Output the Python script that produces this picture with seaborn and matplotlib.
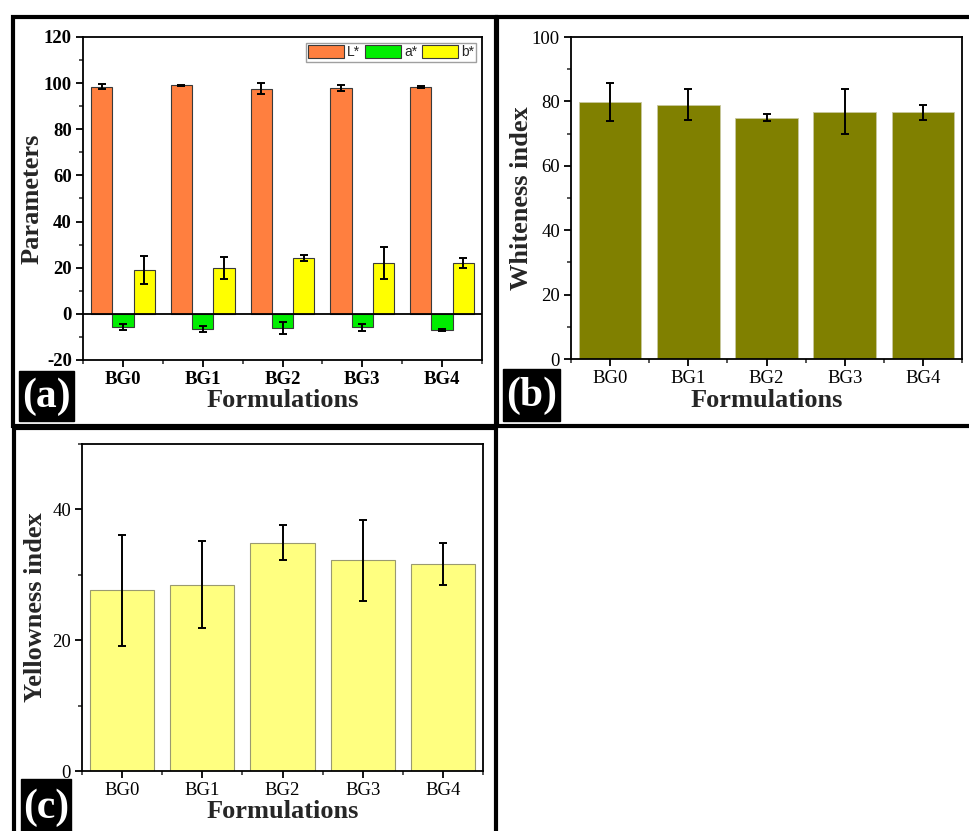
import numpy as np
import pandas as pd
import matplotlib
matplotlib.use("Agg")
import matplotlib.pyplot as plt
from matplotlib.patches import Rectangle
from matplotlib.ticker import MultipleLocator, FixedLocator
import seaborn as sns

# ---- data ----
formulations = ["BG0", "BG1", "BG2", "BG3", "BG4"]

L_star = [98.5, 99.0, 97.6, 98.0, 98.5]
L_err = [1.0, 0.3, 2.3, 1.3, 0.4]
a_star = [-5.5, -6.7, -6.2, -5.8, -7.0]
a_err = [1.3, 1.3, 2.5, 1.5, 0.4]
b_star = [18.9, 19.8, 24.0, 22.0, 22.0]
b_err = [6.0, 4.8, 1.3, 6.9, 2.2]
param_names = ["L*", "a*", "b*"]

whiteness = [79.8, 79.0, 75.0, 76.8, 76.6]
whiteness_err = [5.9, 4.9, 1.1, 7.0, 2.3]

yellowness = [27.6, 28.5, 34.9, 32.2, 31.7]
yellowness_err = [8.5, 6.7, 2.7, 6.2, 3.2]

param_colors = {"L*": "#FF7F3F", "a*": "#00EE00", "b*": "#FFFF00"}
whiteness_color = "#808000"
yellowness_color = "#FFFF80"

# ---- style ----
sns.set_style("ticks")
plt.rcParams["font.family"] = ["Liberation Serif", "DejaVu Serif"]
plt.rcParams["axes.unicode_minus"] = False
plt.rcParams["axes.linewidth"] = 1.3
plt.rcParams["xtick.major.width"] = 1.3
plt.rcParams["ytick.major.width"] = 1.3
plt.rcParams["xtick.minor.width"] = 1.1
plt.rcParams["ytick.minor.width"] = 1.1
plt.rcParams["xtick.direction"] = "out"
plt.rcParams["ytick.direction"] = "out"

W, H = 969, 831
fig = plt.figure(figsize=(W / 100, H / 100), dpi=100)
fig.patch.set_facecolor("white")


def px_rect(l, t, r, b):
    return [l / W, 1 - b / H, (r - l) / W, (b - t) / H]


def frame(l, t, r, b):
    fig.patches.append(Rectangle((l / W, 1 - b / H), (r - l) / W, (b - t) / H,
                                 transform=fig.transFigure, fill=False,
                                 edgecolor="black", linewidth=3.0, zorder=0))


def tag(l, t, r, b, text):
    fig.patches.append(Rectangle((l / W, 1 - b / H), (r - l) / W, (b - t) / H,
                                 transform=fig.transFigure, facecolor="black",
                                 edgecolor="black", zorder=5))
    fig.text((l + r) / 2 / W, 1 - ((t + b) / 2 + 1) / H, text, color="white",
             fontsize=30, fontweight="bold", ha="center", va="center", zorder=6)


def style_axes(ax, bold, ylabel_px):
    for s in ax.spines.values():
        s.set_visible(True)
        s.set_color("black")
    ax.tick_params(axis="both", which="major", length=5, labelsize=13.5,
                   colors="black", pad=3)
    ax.tick_params(axis="both", which="minor", length=3)
    ax.tick_params(top=False, right=False, which="both")
    ax.set_xlim(-0.5, 4.5)
    ax.xaxis.set_minor_locator(FixedLocator(np.arange(-0.5, 5.0, 1.0)))
    if bold:
        for lab in ax.get_xticklabels() + ax.get_yticklabels():
            lab.set_fontweight("bold")
    ax.set_xlabel("Formulations", fontsize=19, fontweight="bold", labelpad=1)
    # place the y label centre at a given distance (px) left of the spine
    width_px = ax.get_position().width * W
    ax.yaxis.set_label_coords(-ylabel_px / width_px, 0.5)


def add_errorbars(ax, container, errs):
    xs = [p.get_x() + p.get_width() / 2 for p in container.patches]
    ys = [p.get_height() for p in container.patches]
    ax.errorbar(xs, ys, yerr=errs, fmt="none", ecolor="black",
                elinewidth=1.4, capsize=3, capthick=1.4, zorder=4)


# ---- panel frames ----
frame(13, 17, 496, 426)
frame(497, 17, 975, 426)
frame(14, 428, 496, 840)

# ---- (a) colour parameters ----
axa = fig.add_axes(px_rect(83, 37, 482, 360))
df_a = pd.DataFrame({
    "Formulation": formulations * 3,
    "Parameter": [p for p in param_names for _ in formulations],
    "Value": L_star + a_star + b_star,
})
sns.barplot(data=df_a, x="Formulation", y="Value", hue="Parameter",
            order=formulations, hue_order=param_names, palette=param_colors,
            errorbar=None, width=0.8, edgecolor="#3a3a3a", linewidth=0.8,
            saturation=1, ax=axa)
for cont, errs in zip(axa.containers, [L_err, a_err, b_err]):
    add_errorbars(axa, cont, errs)
axa.axhline(0, color="black", linewidth=1.3, zorder=3)
axa.set_ylim(-20, 120)
axa.yaxis.set_major_locator(MultipleLocator(20))
axa.yaxis.set_minor_locator(MultipleLocator(10))
axa.set_ylabel("Parameters", fontsize=19, fontweight="bold", va="center")
style_axes(axa, bold=True, ylabel_px=51)
handles = [Rectangle((0, 0), 1, 1, facecolor=param_colors[p],
                     edgecolor="#3a3a3a", linewidth=0.8) for p in param_names]
leg = axa.legend(handles, param_names, loc="upper right", ncol=3,
                 prop={"family": "Liberation Sans", "size": 10},
                 frameon=True, fancybox=False, edgecolor="#888888",
                 handlelength=2.6, handleheight=1.05, handletextpad=0.2,
                 columnspacing=0.35, borderpad=0.18, borderaxespad=0.4)
leg.get_frame().set_linewidth(1.0)

# ---- (b) whiteness index ----
axb = fig.add_axes(px_rect(571, 37, 962, 359))
df_b = pd.DataFrame({"Formulation": formulations, "WI": whiteness})
sns.barplot(data=df_b, x="Formulation", y="WI", order=formulations,
            color=whiteness_color, saturation=1, errorbar=None, width=0.8,
            edgecolor="#c8c8a0", linewidth=0.6, ax=axb)
add_errorbars(axb, axb.containers[0], whiteness_err)
axb.set_ylim(0, 100)
axb.yaxis.set_major_locator(MultipleLocator(20))
axb.yaxis.set_minor_locator(MultipleLocator(10))
axb.set_ylabel("Whiteness index", fontsize=19, fontweight="bold", va="center")
style_axes(axb, bold=False, ylabel_px=49)

# ---- (c) yellowness index ----
axc = fig.add_axes(px_rect(82, 444, 483, 771))
df_c = pd.DataFrame({"Formulation": formulations, "YI": yellowness})
sns.barplot(data=df_c, x="Formulation", y="YI", order=formulations,
            color=yellowness_color, saturation=1, errorbar=None, width=0.8,
            edgecolor="#9a9a70", linewidth=0.8, ax=axc)
add_errorbars(axc, axc.containers[0], yellowness_err)
axc.set_ylim(0, 50)
axc.yaxis.set_major_locator(MultipleLocator(20))
axc.yaxis.set_minor_locator(MultipleLocator(10))
axc.set_ylabel("Yellowness index", fontsize=19, fontweight="bold", va="center")
style_axes(axc, bold=False, ylabel_px=46)

# ---- panel tags ----
tag(19, 371, 74, 421, "(a)")
tag(503, 369, 560, 421, "(b)")
tag(21, 779, 71, 835, "(c)")

fig.savefig("out.png", dpi=100, facecolor="white")
